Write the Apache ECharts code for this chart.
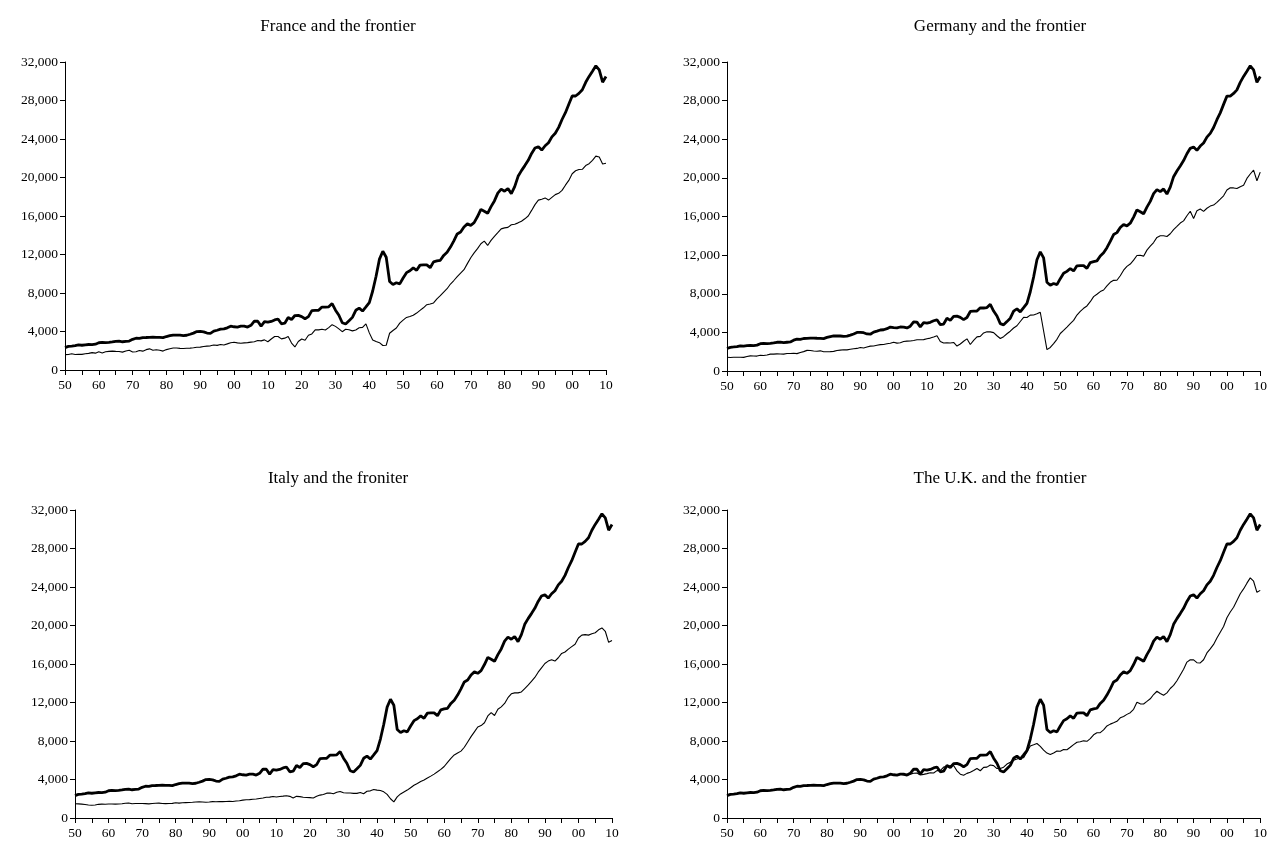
<!DOCTYPE html>
<html><head><meta charset="utf-8">
<script src="https://cdn.jsdelivr.net/npm/echarts@6/dist/echarts.min.js"></script>
<style>html,body{margin:0;padding:0;background:#fff}#c{width:1270px;height:843px}</style>
</head><body><div id="c"></div>
<script>
const startYear = 1850;
const yTicks = [0, 4000, 8000, 12000, 16000, 20000, 24000, 28000, 32000];

const frontier = [
2330,2451,2488,2527,2600,2571,2620,2651,2634,2681,
2830,2860,2836,2871,2913,2975,2991,2934,2977,3007,
3190,3298,3281,3367,3375,3396,3407,3393,3381,3357,
3477,3564,3627,3632,3625,3582,3609,3713,3833,3993,
4009,3967,3838,3808,4034,4129,4248,4272,4381,4548,
4492,4464,4558,4551,4457,4642,5079,5065,4560,5017,
4964,5046,5201,5301,4799,4864,5459,5248,5659,5680,
5552,5323,5540,6164,6195,6205,6539,6523,6569,6899,
6213,5691,4908,4777,5114,5467,6204,6430,6126,6561,
7010,8206,9741,11518,12333,11709,9197,8886,9065,8944,
9561,10116,10316,10613,10359,10897,10914,10920,10631,11230,
11328,11402,11905,12242,12773,13419,14134,14330,14863,15179,
15030,15304,15944,16689,16491,16284,16975,17567,18373,18789,
18577,18856,18325,19048,20123,20717,21236,21788,22499,23059,
23201,22849,23298,23616,24221,24603,25213,26026,26732,27611,
28467,28469,28744,29115,29891,30505,31049,31600,31178,29899,
30491];

const france = [
1597,1618,1681,1612,1633,1627,1691,1729,1808,1750,
1892,1775,1892,1937,1959,1940,1927,1855,1970,2044,
1876,1893,2023,1960,2116,2196,2051,2097,2058,1963,
2120,2209,2286,2279,2246,2227,2257,2276,2310,2366,
2376,2441,2485,2511,2605,2559,2644,2597,2714,2838,
2876,2818,2776,2815,2842,2894,2935,3060,3026,3130,
2937,3224,3486,3485,3236,3310,3468,2794,2396,2956,
3227,3096,3608,3749,4173,4166,4232,4152,4402,4710,
4532,4269,3981,4226,4184,4063,4163,4393,4424,4793,
3857,3121,2952,2839,2542,2573,3819,4105,4363,4869,
5186,5461,5564,5684,5915,6199,6462,6784,6856,6970,
7398,7718,8099,8445,8931,9298,9708,10075,10425,11052,
11664,12170,12610,13114,13393,12942,13466,13891,14272,14664,
14766,14819,15089,15138,15286,15448,15708,16001,16581,17184,
17647,17743,17880,17656,17942,18221,18354,18658,19202,19699,
20391,20700,20830,20850,21239,21432,21786,22223,22132,21399,
21477];

const germany = [
1428,1400,1418,1428,1427,1408,1498,1563,1549,1544,
1639,1600,1659,1750,1751,1773,1756,1749,1812,1812,
1839,1800,1925,2007,2136,2125,2075,2042,2088,1994,
1991,2009,2030,2128,2163,2197,2185,2252,2312,2339,
2428,2381,2487,2573,2586,2663,2730,2752,2816,2868,
2985,2888,2925,3048,3098,3104,3162,3233,3237,3249,
3348,3408,3524,3648,3059,2899,2919,2902,2954,2586,
2796,3084,3331,2744,3170,3532,3587,3941,4065,4051,
3973,3652,3362,3556,3858,4120,4451,4685,5126,5549,
5545,5788,5805,5924,6084,null,2217,2436,2834,3282,
3881,4206,4553,4905,5247,5797,6177,6492,6737,7177,
7705,7952,8222,8386,8822,9186,9388,9397,9864,10440,
10839,11077,11481,11966,11995,11894,12519,12922,13302,13834,
13999,14008,13929,14213,14639,14974,15319,15544,16075,16539,
15800,16604,16782,16525,16856,17078,17182,17467,17799,18139,
18740,18981,18960,18894,19088,19228,19941,20400,20800,19700,
20600];

const italy = [
1480,1470,1440,1400,1350,1330,1350,1420,1440,1430,
1450,1447,1440,1460,1480,1530,1560,1480,1500,1510,
1499,1490,1470,1500,1530,1550,1500,1490,1510,1520,
1581,1550,1590,1600,1610,1630,1660,1680,1660,1640,
1667,1700,1690,1700,1700,1710,1730,1710,1760,1800,
1855,1900,1910,1950,1970,2030,2080,2150,2170,2230,
2180,2240,2270,2320,2250,2080,2250,2220,2160,2130,
2120,2080,2250,2380,2450,2580,2600,2520,2680,2760,
2620,2600,2590,2560,2560,2650,2520,2780,2820,2960,
2900,2850,2720,2450,2000,1680,2200,2500,2700,2900,
3150,3400,3580,3800,3950,4150,4350,4560,4800,5050,
5350,5780,6200,6550,6750,6950,7350,7900,8450,8950,
9450,9600,9900,10600,10950,10650,11300,11550,11900,12500,
12900,13000,13000,13100,13450,13800,14200,14600,15150,15600,
16050,16300,16450,16300,16650,17100,17250,17550,17800,18050,
18700,19000,19050,19000,19150,19250,19550,19750,19400,18250,
18450];

const uk = [
2330,2451,2488,2527,2600,2571,2620,2651,2634,2681,
2830,2860,2836,2871,2913,2975,2991,2934,2977,3007,
3190,3298,3281,3367,3375,3396,3407,3393,3381,3357,
3477,3564,3627,3632,3625,3582,3609,3713,3833,3993,
4009,3967,3838,3808,4034,4129,4248,4272,4381,4548,
4492,4450,4558,4478,4457,4557,4655,4667,4473,4530,
4611,4709,4672,4921,4927,5288,5383,5433,5459,4893,
4548,4439,4637,4756,4927,5144,4908,5255,5288,5503,
5441,5138,5148,5277,5608,5799,6000,6124,6266,6262,
6856,7482,7600,7740,7441,7056,6745,6604,6746,6956,
6939,7123,7091,7346,7619,7868,7929,8017,7966,8240,
8645,8857,8865,9149,9568,9752,9885,10049,10410,10552,
10767,10941,11294,12025,11859,11847,12115,12384,12828,13167,
12931,12747,13005,13455,13776,14264,14860,15459,16199,16446,
16430,16135,16108,16442,17147,17576,18037,18700,19300,19900,
20800,21400,21900,22600,23300,23800,24400,24950,24600,23450,
23650];

const panels = [
  {title: 'France and the frontier',   country: france,  left: 65,  top: 62,  width: 541, height: 308, tx: 333, ty: 13},
  {title: 'Germany and the frontier',  country: germany, left: 727, top: 62,  width: 539, height: 309, tx: 995, ty: 13},
  {title: 'Italy and the froniter',    country: italy,   left: 75,  top: 510, width: 537, height: 308, tx: 333, ty: 465},
  {title: 'The U.K. and the frontier', country: uk,      left: 727, top: 510, width: 539, height: 308, tx: 995, ty: 465}
];

const font = 'Liberation Serif';
const toPairs = arr => arr.map((v, i) => [startYear + i, v]);

const option = {
  backgroundColor: '#fff',
  animation: false,
  title: panels.map(p => ({
    text: p.title, left: p.tx, top: p.ty, textAlign: 'center',
    textStyle: {fontFamily: font, fontSize: 17, fontWeight: 'normal', color: '#000'}
  })),
  grid: panels.map(p => ({left: p.left, top: p.top, width: p.width, height: p.height})),
  xAxis: panels.map((p, i) => ({
    type: 'value', gridIndex: i, min: 1850, max: 2010, interval: 5,
    axisLine: {lineStyle: {color: '#000', width: 1}},
    axisTick: {show: true, length: 5, lineStyle: {color: '#000'}},
    splitLine: {show: false},
    axisLabel: {
      fontFamily: font, fontSize: 13.5, color: '#000', margin: 8,
      showMaxLabel: true, showMinLabel: true,
      formatter: v => (v % 10 === 0) ? String(v % 100).padStart(2, '0') : ''
    }
  })),
  yAxis: panels.map((p, i) => ({
    type: 'value', gridIndex: i, min: 0, max: 32000, interval: 4000,
    axisLine: {show: true, lineStyle: {color: '#000', width: 1}},
    axisTick: {show: true, length: 5, lineStyle: {color: '#000'}},
    splitLine: {show: false},
    axisLabel: {
      fontFamily: font, fontSize: 13.5, color: '#000', margin: 7,
      formatter: v => yTicks.includes(v) ? v.toLocaleString('en-US') : ''
    }
  })),
  series: panels.flatMap((p, i) => [
    {type: 'line', xAxisIndex: i, yAxisIndex: i, data: toPairs(frontier), showSymbol: false,
     lineStyle: {color: '#000', width: 2.8}, itemStyle: {color: '#000'}, z: 3},
    {type: 'line', xAxisIndex: i, yAxisIndex: i, data: toPairs(p.country), showSymbol: false, connectNulls: true,
     lineStyle: {color: '#000', width: 1.1}, itemStyle: {color: '#000'}, z: 2}
  ])
};

const chart = echarts.init(document.getElementById('c'), null, {renderer: 'canvas'});
chart.setOption(option);
</script>
</body></html>
